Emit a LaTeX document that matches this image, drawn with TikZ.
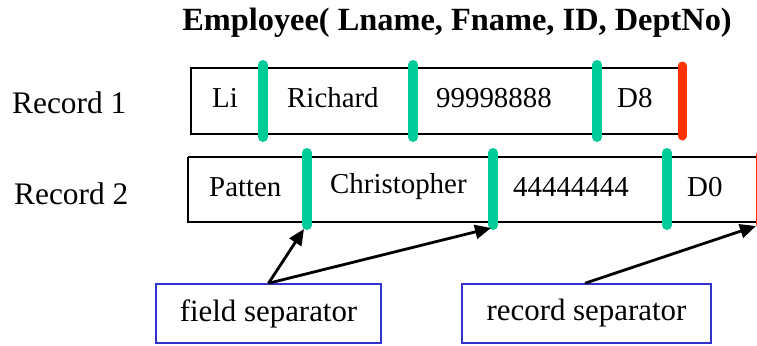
\documentclass[tikz,border=0pt]{standalone}
\usepackage{fontspec}
\setmainfont{Liberation Serif}
\usetikzlibrary{arrows.meta}
\definecolor{sepgreen}{RGB}{0,204,153}
\definecolor{sepred}{RGB}{255,51,0}
\definecolor{boxblue}{RGB}{51,51,204}
\tikzset{
  recbox/.style={draw=black, line width=2bp},
  fieldtxt/.style={inner sep=0pt, anchor=center, font=\fontsize{29}{34}\selectfont},
  rowtxt/.style={inner sep=0pt, anchor=west, font=\fontsize{31.5}{36}\selectfont},
  fsep/.style={draw=sepgreen, line width=10bp, line cap=round},
  rsep/.style={draw=sepred, line width=9bp, line cap=round},
  lblbox/.style={draw=boxblue, line width=1.5bp, minimum width=#1, minimum height=59bp, inner sep=0pt, font=\fontsize{31}{36}\selectfont},
  pointer/.style={line width=2.8bp, -{Triangle[length=16bp,width=14bp]}},
}
\begin{document}
\begin{tikzpicture}[x=1bp,y=-1bp]
\useasboundingbox (0,0) rectangle (757,345);
% title
\node[inner sep=0pt, font=\bfseries\fontsize{32.5}{38}\selectfont] (title) at (457,23) {Employee( Lname, Fname, ID, DeptNo)};
% row labels
\node[rowtxt] (r1) at (12,103) {Record 1};
\node[rowtxt] (r2) at (14,194) {Record 2};
% record 1
\draw[recbox] (191,68) rectangle (682,134);
\coordinate (a1t) at (263,65); \coordinate (a1b) at (263,137);
\coordinate (a2t) at (413,65); \coordinate (a2b) at (413,137);
\coordinate (a3t) at (597,65); \coordinate (a3b) at (597,137);
\coordinate (a4t) at (682,66); \coordinate (a4b) at (682,136);
\draw[fsep] (a1t) -- (a1b);
\draw[fsep] (a2t) -- (a2b);
\draw[fsep] (a3t) -- (a3b);
\draw[rsep] (a4t) -- (a4b);
\node[fieldtxt, anchor=west] (f11) at (212,98) {Li};
\node[fieldtxt, anchor=west] (f12) at (287,98) {Richard};
\node[fieldtxt, anchor=west] (f13) at (436,98) {99998888};
\node[fieldtxt, anchor=west] (f14) at (617,98) {D8};
% record 2
\draw[recbox] (188,157) -- (762,157) (188,157) -- (188,222) -- (762,222);
\coordinate (b1t) at (307,153); \coordinate (b1b) at (307,225);
\coordinate (b2t) at (493,153); \coordinate (b2b) at (493,225);
\coordinate (b3t) at (667,153); \coordinate (b3b) at (667,225);
\coordinate (b4t) at (760,155); \coordinate (b4b) at (760,224);
\draw[fsep] (b1t) -- (b1b);
\draw[fsep] (b2t) -- (b2b);
\draw[fsep] (b3t) -- (b3b);
\draw[rsep] (b4t) -- (b4b);
\node[fieldtxt, anchor=west] (f21) at (209,187) {Patten};
\node[fieldtxt, anchor=west] (f22) at (330,187) {Christopher};
\node[fieldtxt, anchor=west] (f23) at (513,187) {44444444};
\node[fieldtxt, anchor=west] (f24) at (687,187) {D0};
% labels
\node[lblbox=225bp] (fs) at (268.5,313.5) {field separator};
\node[lblbox=249bp] (rs) at (586.5,313.5) {record separator};
% pointers
\coordinate (p1) at (304,229);
\coordinate (p2) at (491,228);
\coordinate (p3) at (756,226);
\draw[pointer] (fs.north) -- (p1);
\draw[pointer] (fs.north) -- (p2);
\draw[pointer] ([xshift=-1.5bp]rs.north) -- (p3);
\end{tikzpicture}
\end{document}
